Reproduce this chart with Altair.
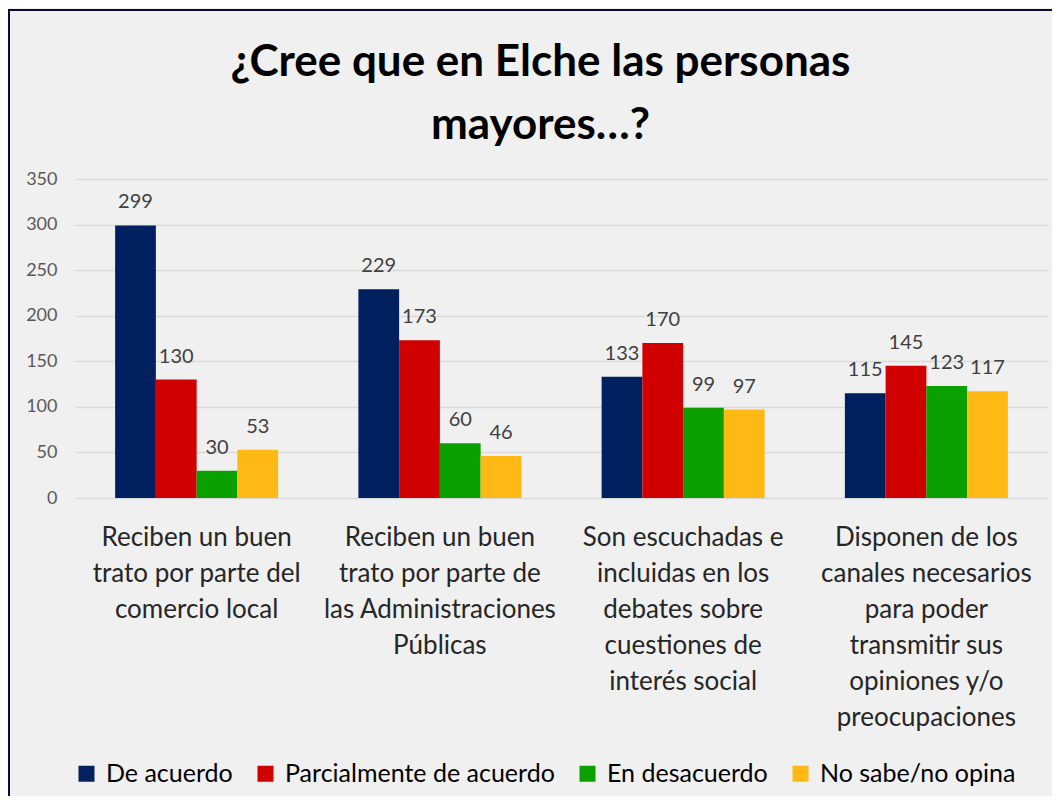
import altair as alt
import pandas as pd

categories = [
    "Reciben un buen|trato por parte del|comercio local",
    "Reciben un buen|trato por parte de|las Administraciones|Públicas",
    "Son escuchadas e|incluidas en los|debates sobre|cuestiones de|interés social",
    "Disponen de los|canales necesarios|para poder|transmitir sus|opiniones y/o|preocupaciones",
]
series = ["De acuerdo", "Parcialmente de acuerdo", "En desacuerdo", "No sabe/no opina"]
de_acuerdo = [299, 229, 133, 115]
parcialmente = [130, 173, 170, 145]
desacuerdo = [30, 60, 99, 123]
no_sabe = [53, 46, 97, 117]
colors = ["#002060", "#D00000", "#0AA000", "#FFB915"]
y_ticks = [0, 50, 100, 150, 200, 250, 300, 350]
title_lines = ["¿Cree que en Elche las personas", "mayores…?"]

rows = []
for s, vals in zip(series, [de_acuerdo, parcialmente, desacuerdo, no_sabe]):
    for c, v in zip(categories, vals):
        rows.append({"categoria": c, "serie": s, "valor": v})
df = pd.DataFrame(rows)

FONT = "Lato"
PW, PH = 973, 319
PAD = {"left": 67, "top": 171, "right": 4, "bottom": 298}

x_enc = alt.X(
    "categoria:N",
    sort=categories,
    scale=alt.Scale(paddingInner=0.33, paddingOuter=0.165),
    axis=alt.Axis(
        title=None, labelAngle=0, labelExpr="split(datum.label, '|')",
        labelFont=FONT, labelFontSize=26, labelLineHeight=36, labelColor="#262626",
        labelPadding=26, labelBaseline="top", domain=False, ticks=False, labelLimit=400,
    ),
)
y_enc = alt.Y(
    "valor:Q",
    scale=alt.Scale(domain=[0, 350], nice=False),
    axis=alt.Axis(
        title=None, values=y_ticks, labelFont=FONT, labelFontSize=18, labelColor="#595959",
        labelPadding=18, domain=False, ticks=False, gridColor="#D9D9D9", gridWidth=1.5,
    ),
)
xoff = alt.XOffset("serie:N", sort=series, scale=alt.Scale(paddingInner=0, paddingOuter=0))

base = alt.Chart(df).encode(x=x_enc, y=y_enc, xOffset=xoff)

bars = base.mark_bar().encode(
    color=alt.Color(
        "serie:N", sort=series,
        scale=alt.Scale(domain=series, range=colors),
        legend=alt.Legend(
            title=None, orient="none", legendX=-1, legendY=582, direction="horizontal",
            columns=4, symbolType="square", symbolSize=256, symbolStrokeWidth=0,
            symbolOpacity=1, labelFont=FONT, labelFontSize=25, labelColor="#000000",
            columnPadding=20, labelOffset=7, padding=0, labelLimit=400,
        ),
    )
)
labels = base.mark_text(
    dy=-17, baseline="alphabetic", font=FONT, fontSize=20, color="#404040"
).encode(text="valor:Q")

frame_df = pd.DataFrame({"k": [0]})
top_line = alt.Chart(frame_df).mark_rule(color="#0B0B3B", strokeWidth=2).encode(
    x=alt.value(-67), x2=alt.value(PW + 4), y=alt.value(-169)
)
left_line = alt.Chart(frame_df).mark_rule(color="#0B0B3B", strokeWidth=2).encode(
    x=alt.value(-66), y=alt.value(-170), y2=alt.value(PH + PAD["bottom"])
)

chart = (
    alt.layer(bars, labels, top_line, left_line)
    .properties(
        width=PW, height=PH,
        padding=PAD,
        autosize=alt.AutoSizeParams(type="none"),
        background="#F0F0F0",
        title=alt.TitleParams(
            text=title_lines, font=FONT, fontSize=44, fontWeight="bold", color="#000000",
            lineHeight=63, anchor="middle", dx=-21, offset=-140,
        ),
    )
    .configure_view(stroke=None)
)

chart.save("out.html", embed_options={"renderer": "svg", "actions": False})
